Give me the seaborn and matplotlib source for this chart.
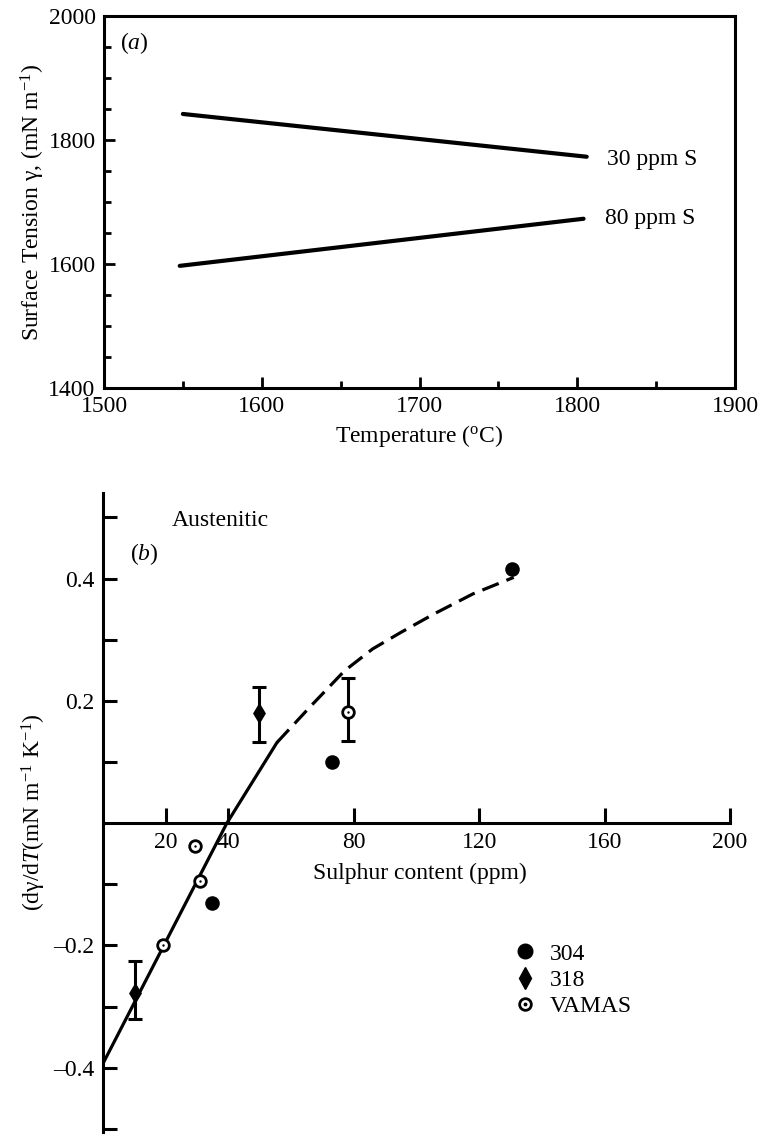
import numpy as np
import pandas as pd
import matplotlib
matplotlib.use("Agg")
import matplotlib.pyplot as plt
from matplotlib.ticker import MultipleLocator, FixedLocator
from matplotlib.lines import Line2D
import seaborn as sns

# ---------------- data ----------------
# panel (a)
temp_30 = [1550, 1806]
gamma_30 = [1842, 1773]
temp_80 = [1548, 1804]
gamma_80 = [1597, 1673]

# panel (b)
s304_x = [130.6, 73.0, 34.9]
s304_y = [0.416, 0.100, -0.130]

s318_x = [49.8, 10.2]
s318_y = [0.181, -0.277]
s318_lo = [0.132, -0.320]
s318_hi = [0.223, -0.225]

vamas_x = [19.0, 30.8, 29.4, 78.0]
vamas_y = [-0.200, -0.095, -0.038, 0.182]
vamas_err_x = [78.0]
vamas_err_y = [0.182]
vamas_lo = [0.134]
vamas_hi = [0.238]

fit_solid_x = [0.0, 39.5, 55.5]
fit_solid_y = [-0.393, 0.0, 0.132]
fit_dash_x = [55.5, 66.0, 77.0, 86.0, 95.0, 105.5, 118.0, 131.0]
fit_dash_y = [0.132, 0.190, 0.249, 0.285, 0.312, 0.342, 0.375, 0.402]

xticks_b = [20, 40, 80, 120, 160, 200]
yticks_b = [-0.4, -0.2, 0.2, 0.4]
yticklabels_b = ["\u20130.4", "\u20130.2", "0.2", "0.4"]
yminor_b = [-0.5, -0.3, -0.1, 0.1, 0.3, 0.5]

# ---------------- style ----------------
sns.set_theme(style="ticks")
plt.rcParams["font.family"] = ["Liberation Serif", "DejaVu Serif"]
plt.rcParams["mathtext.fontset"] = "custom"
plt.rcParams["mathtext.rm"] = "Liberation Serif"
plt.rcParams["mathtext.it"] = "Liberation Serif:italic"
plt.rcParams["axes.unicode_minus"] = False
plt.rcParams["text.color"] = "black"
plt.rcParams["axes.labelcolor"] = "black"
plt.rcParams["xtick.color"] = "black"
plt.rcParams["ytick.color"] = "black"

FS = 17
W, H = 762, 1136
fig = plt.figure(figsize=(W / 100, H / 100), dpi=100)

def fx(px):
    return px / W

def fy(py):
    return 1 - py / H

# ---------------- panel (a) ----------------
axa = fig.add_axes([fx(104), fy(388), fx(735) - fx(104), fy(16) - fy(388)])
sns.lineplot(x=temp_30, y=gamma_30, ax=axa, color="black", linewidth=3.0, sort=False)
sns.lineplot(x=temp_80, y=gamma_80, ax=axa, color="black", linewidth=3.0, sort=False)
axa.set_xlim(1500, 1900)
axa.set_ylim(1400, 2000)
axa.xaxis.set_major_locator(MultipleLocator(100))
axa.xaxis.set_minor_locator(MultipleLocator(50))
axa.yaxis.set_major_locator(MultipleLocator(200))
axa.yaxis.set_minor_locator(MultipleLocator(50))
axa.tick_params(which="both", direction="in", top=False, right=False,
                labelsize=FS, width=2, color="black", labelcolor="black")
axa.tick_params(which="major", length=8, pad=6)
axa.tick_params(which="minor", length=5)
for sp in axa.spines.values():
    sp.set_linewidth(2.2)
    sp.set_color("black")
    sp.set_visible(True)
axa.set_xlabel("Temperature ($^{\\mathrm{o}}$C)", fontsize=FS, color="black")
axa.set_ylabel("Surface Tension \u03b3, (mN m$^{-1}$)", fontsize=FS, color="black")
axa.xaxis.set_label_coords(0.5, -0.095)
axa.yaxis.set_label_coords(-0.09, 0.5)
axa.text(1818.8, 1768, "30 ppm S", fontsize=FS, va="center", ha="left", color="black")
axa.text(1817.5, 1674, "80 ppm S", fontsize=FS, va="center", ha="left", color="black")
axa.text(1510, 1956, "($\\it{a}$)", fontsize=FS, va="center", ha="left", color="black")

# ---------------- panel (b) ----------------
axb = fig.add_axes([fx(103), fy(1132), fx(730) - fx(103), fy(493) - fy(1132)])
sns.lineplot(x=fit_solid_x, y=fit_solid_y, ax=axb, color="black", linewidth=2.3)
sns.lineplot(x=fit_dash_x, y=fit_dash_y, ax=axb, color="black", linewidth=2.3,
             linestyle=(0, (5.5, 2.6)))

axb.errorbar(s318_x, s318_y,
             yerr=[np.array(s318_y) - np.array(s318_lo), np.array(s318_hi) - np.array(s318_y)],
             fmt="none", ecolor="black", elinewidth=2.2, capsize=5, capthick=2.2)
axb.errorbar(vamas_err_x, vamas_err_y,
             yerr=[np.array(vamas_err_y) - np.array(vamas_lo), np.array(vamas_hi) - np.array(vamas_err_y)],
             fmt="none", ecolor="black", elinewidth=2.2, capsize=5, capthick=2.2)

sns.scatterplot(x=s304_x, y=s304_y, ax=axb, marker="o", s=110, color="black",
                edgecolor="black", linewidth=0, zorder=5)
sns.scatterplot(x=s318_x, y=s318_y, ax=axb, marker="d", s=120, color="black",
                edgecolor="black", linewidth=0, zorder=5)
sns.scatterplot(x=vamas_x, y=vamas_y, ax=axb, marker="o", s=70, color="white",
                edgecolor="black", linewidth=2.0, zorder=5)
sns.scatterplot(x=vamas_x, y=vamas_y, ax=axb, marker="o", s=3, color="black",
                edgecolor="black", linewidth=0, zorder=6)

axb.set_xlim(0, 200)
axb.set_ylim(-0.505, 0.54)
axb.spines["top"].set_visible(False)
axb.spines["right"].set_visible(False)
axb.spines["bottom"].set_position(("data", 0))
for sp in ("left", "bottom"):
    axb.spines[sp].set_linewidth(2.2)
    axb.spines[sp].set_color("black")
axb.xaxis.set_major_locator(FixedLocator(xticks_b))
axb.set_xticklabels([str(v) for v in xticks_b])
axb.yaxis.set_major_locator(FixedLocator(yticks_b))
axb.set_yticklabels(yticklabels_b)
axb.yaxis.set_minor_locator(FixedLocator(yminor_b))
axb.tick_params(which="both", direction="in", top=False, right=False,
                labelsize=FS, width=2.2, color="black", labelcolor="black")
axb.tick_params(axis="y", which="both", length=10, pad=6)
axb.tick_params(axis="x", which="major", length=11, pad=6)
axb.set_xlabel("Sulphur content (ppm)", fontsize=FS, color="black")
axb.xaxis.set_label_coords(0.505, 0.421)
axb.set_ylabel("(d\u03b3/d$\\it{T}$(mN m$^{-1}$ K$^{-1}$)", fontsize=FS, color="black")
axb.yaxis.set_label_coords(-0.088, 0.5)
axb.text(22, 0.495, "Austenitic", fontsize=FS, va="center", ha="left", color="black")
axb.text(8.6, 0.441, "($\\it{b}$)", fontsize=FS, va="center", ha="left", color="black")

# legend
h304 = Line2D([], [], marker="o", linestyle="none", markersize=10.5,
              markerfacecolor="black", markeredgecolor="black")
h318 = Line2D([], [], marker="d", linestyle="none", markersize=11,
              markerfacecolor="black", markeredgecolor="black")
hv1 = Line2D([], [], marker="o", linestyle="none", markersize=8.4,
             markerfacecolor="white", markeredgecolor="black", markeredgewidth=2.0)
hv2 = Line2D([], [], marker="o", linestyle="none", markersize=1.8,
             markerfacecolor="black", markeredgecolor="black")
leg = axb.legend([h304, h318, (hv1, hv2)], ["304", "318", "VAMAS"],
                 loc="upper left", bbox_to_anchor=(fx(515.6), fy(943)),
                 bbox_transform=fig.transFigure, frameon=False, fontsize=FS,
                 borderpad=0, borderaxespad=0, handlelength=0.8, handletextpad=0.66,
                 labelspacing=0.2)
for t in leg.get_texts():
    t.set_color("black")

fig.savefig("out.png", dpi=100)
